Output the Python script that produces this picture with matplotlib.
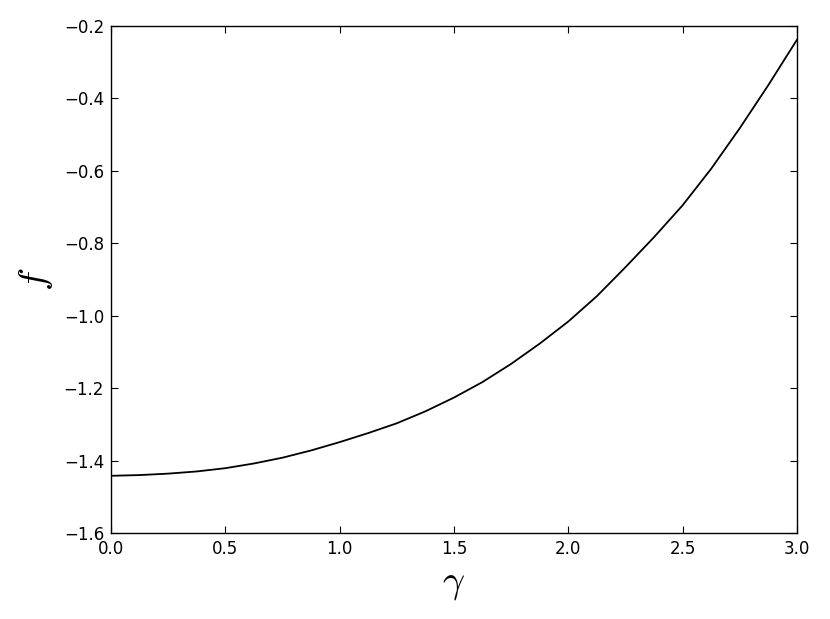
import numpy as np
import matplotlib
matplotlib.use("Agg")
import matplotlib.pyplot as plt

# values (step 0.125 in gamma)
gamma = [0.0, 0.125, 0.25, 0.375, 0.5, 0.625, 0.75, 0.875, 1.0,
         1.125, 1.25, 1.375, 1.5, 1.625, 1.75, 1.875, 2.0,
         2.125, 2.25, 2.375, 2.5, 2.625, 2.75, 2.875, 3.0]
f_vals = [-1.442, -1.440, -1.436, -1.430, -1.421, -1.408, -1.392, -1.372, -1.349,
          -1.324, -1.297, -1.264, -1.226, -1.183, -1.133, -1.077, -1.016,
          -0.946, -0.866, -0.783, -0.695, -0.594, -0.482, -0.363, -0.238]

x_ticks = [0.0, 0.5, 1.0, 1.5, 2.0, 2.5, 3.0]
y_ticks = [-1.6, -1.4, -1.2, -1.0, -0.8, -0.6, -0.4, -0.2]

plt.rcParams["mathtext.fontset"] = "cm"
plt.rcParams["font.family"] = "DejaVu Sans"

fig = plt.figure(figsize=(8.3, 6.19), dpi=100)
ax = fig.add_axes([0.1337, 0.1389, 0.8265, 0.8191])

ax.plot(gamma, f_vals, color="black", lw=1.3)

ax.set_xlim(0.0, 3.0)
ax.set_ylim(-1.6, -0.2)
ax.set_xticks(x_ticks)
ax.set_yticks(y_ticks)
ax.set_xticklabels([f"{v:.1f}" for v in x_ticks])
ax.set_yticklabels([f"\u2212{abs(v):.1f}" for v in y_ticks])
ax.tick_params(direction="in", top=True, right=True, length=5, width=0.8,
               labelsize=12, pad=5)
for s in ax.spines.values():
    s.set_linewidth(1.0)

ax.set_xlabel(r"$\gamma$", fontsize=28, labelpad=4)
ax.set_ylabel(r"$f$", fontsize=28, labelpad=6)

fig.savefig("out.png", dpi=100, facecolor="white")
